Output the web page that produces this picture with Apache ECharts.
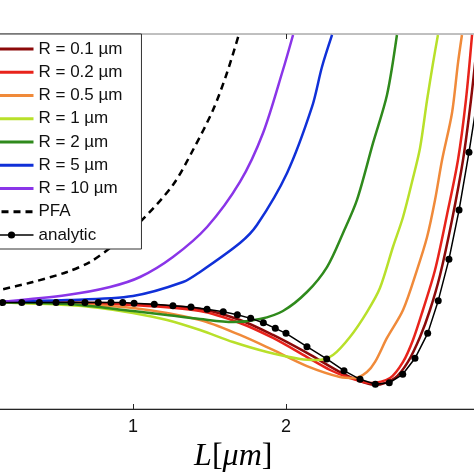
<!DOCTYPE html>
<html><head><meta charset="utf-8">
<script src="https://cdn.jsdelivr.net/npm/echarts@6/dist/echarts.min.js"></script>
<style>html,body{margin:0;padding:0;background:#fff}#c{width:474px;height:474px}</style>
</head><body><div id="c"></div>
<script>
// Names and colours
const seriesNames = ['R = 0.1 \u00b5m','R = 0.2 \u00b5m','R = 0.5 \u00b5m','R = 1 \u00b5m','R = 2 \u00b5m','R = 5 \u00b5m','R = 10 \u00b5m','PFA','analytic'];
const seriesColors = ['#8c0a0a','#e8231b','#f08a3a','#b8e02a','#2f8a1c','#1030d8','#8a35e8','#000000','#000000'];
const xTicks = [1, 2];

// [L (um), value]
const r01 = [[0,0.999],[0.569,0.994],[1.000,0.980],[1.438,0.933],[1.699,0.831],[1.915,0.691],[2.137,0.523],[2.353,0.345],[2.484,0.261],[2.584,0.224],[2.712,0.289],[2.797,0.439],[2.876,0.672],[2.941,0.924],[3.007,1.251],[3.085,1.764],[3.157,2.324],[3.209,2.884],[3.255,3.491]];
const r02 = [[0,0.999],[0.569,0.989],[1.000,0.971],[1.438,0.915],[1.699,0.803],[1.915,0.663],[2.137,0.485],[2.288,0.364],[2.418,0.289],[2.549,0.243],[2.680,0.289],[2.765,0.439],[2.830,0.644],[2.895,0.924],[2.974,1.297],[3.052,1.811],[3.124,2.324],[3.176,2.884],[3.216,3.491]];
const r05 = [[0,0.999],[0.569,0.980],[1.000,0.943],[1.438,0.831],[1.699,0.691],[1.915,0.551],[2.137,0.401],[2.353,0.299],[2.451,0.289],[2.529,0.345],[2.582,0.439],[2.660,0.663],[2.765,0.924],[2.856,1.297],[2.922,1.605],[2.974,1.951],[3.020,2.324],[3.085,2.763],[3.124,3.229],[3.150,3.491]];
const r1 = [[0,0.999],[0.569,0.971],[0.784,0.943],[1.000,0.896],[1.222,0.831],[1.438,0.737],[1.654,0.625],[1.876,0.532],[2.092,0.467],[2.203,0.457],[2.307,0.504],[2.418,0.672],[2.529,0.905],[2.614,1.129],[2.699,1.512],[2.765,1.792],[2.830,2.156],[2.876,2.436],[2.922,2.884],[2.961,3.229],[2.993,3.491]];
const r2 = [[0,0.999],[0.569,0.980],[1.000,0.915],[1.222,0.877],[1.438,0.840],[1.654,0.812],[1.830,0.840],[1.980,0.915],[2.137,1.092],[2.268,1.325],[2.373,1.643],[2.464,1.951],[2.569,2.483],[2.660,2.931],[2.725,3.491]];
const r5 = [[0,1.0],[0.569,1.017],[1.000,1.055],[1.327,1.185],[1.438,1.279],[1.699,1.549],[1.810,1.717],[2.007,2.203],[2.170,2.819],[2.235,3.192],[2.301,3.491]];
const r10 = [[0,0.99],[0.131,0.999],[0.569,1.064],[0.850,1.139],[1.046,1.232],[1.261,1.419],[1.484,1.699],[1.699,2.119],[1.850,2.576],[1.980,3.164],[2.046,3.491]];
const pfa = [[0,1.064],[0.131,1.111],[0.346,1.185],[0.569,1.279],[0.719,1.372],[0.850,1.503],[1.046,1.745],[1.261,2.091],[1.392,2.417],[1.523,2.791],[1.614,3.136],[1.693,3.5]];
const analytic = [[0.02,0.993],[0.148,0.993],[0.273,0.993],[0.388,0.993],[0.497,0.993],[0.595,0.993],[0.686,0.993],[0.773,0.993],[0.856,0.993],[0.933,0.993],[1.007,0.987],[1.139,0.977],[1.261,0.964],[1.379,0.952],[1.484,0.930],[1.590,0.908],[1.682,0.880],[1.769,0.846],[1.852,0.805],[1.930,0.753],[2.000,0.706],[2.137,0.582],[2.266,0.467],[2.379,0.358],[2.484,0.277],[2.584,0.231],[2.675,0.245],[2.763,0.324],[2.843,0.473],[2.926,0.706],[2.995,1.011],[3.065,1.397],[3.131,1.857],[3.196,2.396],[3.255,2.93],[3.31,3.6]];

const curveData = [r01, r02, r05, r1, r2, r5, r10];

const series = curveData.map((d, i) => ({
  type: 'line', name: seriesNames[i], data: d,
  symbol: 'none', showSymbol: false, smooth: 0.3,
  lineStyle: { color: seriesColors[i], width: 2.5 },
  itemStyle: { color: seriesColors[i] }
}));
series.push({
  type: 'line', name: seriesNames[7], data: pfa, symbol: 'none', showSymbol: false, smooth: 0.3,
  lineStyle: { color: '#000', width: 2.5, type: [7, 5] }, itemStyle: { color: '#000' }
});
series.push({
  type: 'line', name: seriesNames[8], data: analytic, symbol: 'circle', symbolSize: 7, showSymbol: true,
  lineStyle: { color: '#000', width: 1.5 }, itemStyle: { color: '#000' }
});

const legendData = seriesNames.map((n, i) => i < 8
  ? { name: n, itemStyle: { opacity: 0 }, lineStyle: { width: 3 } }
  : { name: n, lineStyle: { width: 1.5 } });

const chart = echarts.init(document.getElementById('c'), null, { renderer: 'canvas' });
chart.setOption({
  animation: false,
  backgroundColor: '#fff',
  grid: { left: -20, right: -41.5, top: 34, bottom: 65, show: true, borderColor: '#808080', borderWidth: 1,
          containLabel: false, outerBoundsMode: 'none' },
  xAxis: [{
    type: 'value', min: 0, max: 3.5, position: 'bottom',
    axisLine: { show: true, lineStyle: { color: '#262626', width: 1 } },
    axisTick: { show: true, inside: true, length: 5, customValues: xTicks, lineStyle: { color: '#262626' } },
    axisLabel: { customValues: xTicks, fontSize: 18, color: '#111', margin: 9, fontFamily: 'Liberation Sans' },
    splitLine: { show: false },
    name: '{a|L}{b|[}{a|\u03bcm}{b|]}', nameLocation: 'middle', nameGap: 30,
    nameTextStyle: { padding: [0, 29, 0, 0], rich: {
      a: { fontFamily: 'Liberation Serif', fontStyle: 'italic', fontSize: 32, color: '#000' },
      b: { fontFamily: 'Liberation Serif', fontSize: 32, color: '#000' } } }
  }, {
    type: 'value', min: 0, max: 3.5, position: 'top',
    axisLine: { show: false },
    axisTick: { show: true, inside: true, length: 5, customValues: xTicks, lineStyle: { color: '#262626' } },
    axisLabel: { show: false }, splitLine: { show: false }
  }],
  yAxis: { type: 'value', min: 0, max: 3.5, axisLine: { show: false }, axisTick: { show: false },
           axisLabel: { show: false }, splitLine: { show: false } },
  legend: {
    orient: 'vertical', left: -17, top: 34, itemWidth: 44, itemHeight: 9, itemGap: 6.25,
    padding: [6.5, 19, 5.5, 5], borderColor: '#333', borderWidth: 1, backgroundColor: '#fff',
    textStyle: { fontSize: 17, lineHeight: 17, color: '#111', fontFamily: 'Liberation Sans' },
    data: legendData
  },
  series: series
});
</script></body></html>
